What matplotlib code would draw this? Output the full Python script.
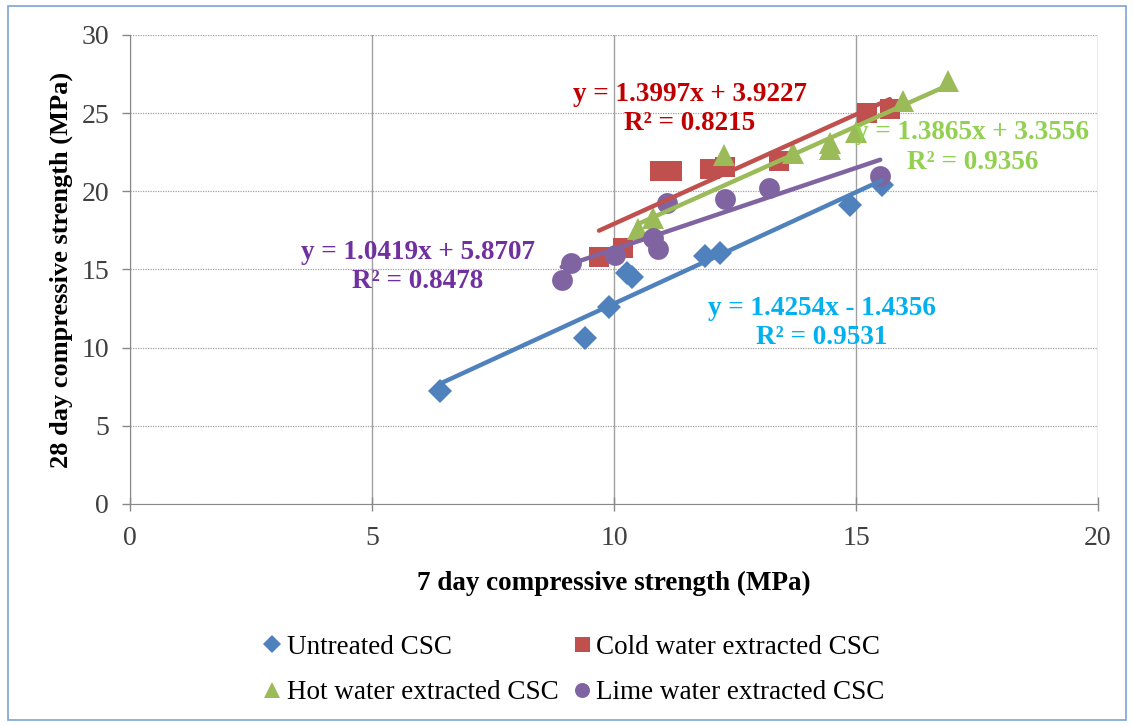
import matplotlib
matplotlib.use("Agg")
import matplotlib.pyplot as plt
from matplotlib.patches import Rectangle

# 7-day vs 28-day compressive strength (MPa)
untreated_x = [6.4, 9.4, 9.9, 10.27, 10.37, 11.88, 12.19, 14.88, 15.53]
untreated_y = [7.2, 10.6, 12.6, 14.8, 14.55, 15.85, 16.05, 19.15, 20.4]

cold_x = [9.69, 10.19, 10.95, 11.2, 11.98, 12.3, 13.41, 15.22, 15.7]
cold_y = [15.8, 16.35, 21.3, 21.3, 21.45, 21.55, 21.95, 25.0, 25.25]

hot_x = [10.5, 10.8, 12.27, 13.7, 14.46, 14.46, 15.0, 15.98, 16.9]
hot_y = [17.6, 18.3, 22.35, 22.45, 22.7, 23.1, 23.8, 25.8, 27.05]

lime_x = [8.92, 9.12, 10.02, 10.8, 10.9, 11.09, 12.29, 13.2, 15.5]
lime_y = [14.33, 15.4, 15.95, 17.0, 16.3, 19.24, 19.5, 20.2, 21.0]

# linear trendlines as labelled on the chart (slope, intercept, R²)
untreated_fit = (1.4254, -1.4356, 0.9531)
cold_fit = (1.3997, 3.9227, 0.8215)
hot_fit = (1.3865, 3.3556, 0.9356)
lime_fit = (1.0419, 5.8707, 0.8478)

labels = ["Untreated CSC", "Cold water extracted CSC",
          "Hot water extracted CSC", "Lime water extracted CSC"]

SERIF = ["Liberation Serif", "DejaVu Serif"]
plt.rcParams["font.family"] = SERIF

fig = plt.figure(figsize=(11.34, 7.26), dpi=100)
fig.patches.append(Rectangle((0.007, 0.008), 0.986, 0.984, transform=fig.transFigure,
                             fill=False, edgecolor="#7BA3D6", linewidth=1.2))
ax = fig.add_axes([0.1146, 0.3058, 0.8537, 0.646])

series = [
    (untreated_x, untreated_y, untreated_fit, "#4F81BD", "D", 12.5, "#00B0F0"),
    (cold_x, cold_y, cold_fit, "#C0504D", "s", 15, "#C00000"),
    (hot_x, hot_y, hot_fit, "#9BBB59", "^", 16.5, "#92D050"),
    (lime_x, lime_y, lime_fit, "#8064A2", "o", 15, "#7030A0"),
]

handles = []
for (xs, ys, fit, col, mk, ms, _), lab in zip(series, labels):
    h, = ax.plot(xs, ys, linestyle="none", marker=mk, markersize=ms, color=col,
                 markeredgewidth=0, label=lab, zorder=3)
    handles.append(h)

for xs, ys, fit, col, mk, ms, _ in series:
    x0, x1 = min(xs), max(xs)
    ax.plot([x0, x1], [fit[0] * x0 + fit[1], fit[0] * x1 + fit[1]],
            color=col, linewidth=3.2, solid_capstyle="round", zorder=4)

# equation labels
eq_pos = [(14.3, 11.6), (11.57, 25.25), (17.4, 22.8), (5.95, 15.15)]
for (xs, ys, fit, col, mk, ms, tcol), (tx, ty) in zip(series, eq_pos):
    sign = "+" if fit[1] >= 0 else "-"
    txt = f"y = {fit[0]:.4f}x {sign} {abs(fit[1]):.4f}\nR² = {fit[2]:.4f}"
    ax.text(tx, ty, txt, color=tcol, fontsize=19.5, fontweight="bold",
            ha="center", va="center", linespacing=1.22, zorder=5)

ax.set_xlim(0, 20)
ax.set_ylim(0, 30)
ax.set_xticks(range(0, 21, 5))
ax.set_yticks(range(0, 31, 5))
ax.grid(axis="x", color="#A0A0A0", linewidth=1.0, linestyle="-")
ax.grid(axis="y", color="#A0A0A0", linewidth=0.9, linestyle=(0, (1, 1)))
ax.set_axisbelow(True)
for s in ["top", "right"]:
    ax.spines[s].set_visible(False)
for s in ["left", "bottom"]:
    ax.spines[s].set_color("#888888")
ax.tick_params(axis="both", colors="#888888", labelcolor="#404040",
               labelsize=20, length=6, width=1, direction="out")
ax.tick_params(axis="y", pad=9)
ax.tick_params(axis="x", direction="inout", length=10, pad=11)

ax.set_xlabel("7 day compressive strength (MPa)", fontsize=19.5, fontweight="bold",
              labelpad=14)
ax.set_ylabel("28 day compressive strength (MPa)", fontsize=19, fontweight="bold",
              labelpad=6)

order = [0, 2, 1, 3]
fig.legend([handles[i] for i in order], [labels[i] for i in order],
           loc="center", bbox_to_anchor=(0.507, 0.077), ncol=2, frameon=False,
           fontsize=19.5, handlelength=0.5, handletextpad=0.3, columnspacing=0.6,
           labelspacing=0.75, markerscale=0.72)

fig.savefig("out.png", dpi=100)
